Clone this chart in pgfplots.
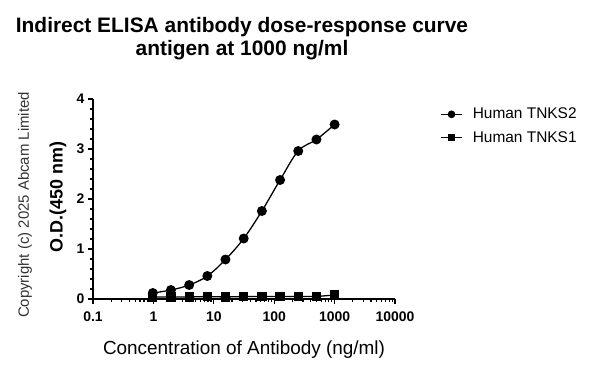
\documentclass[border=0pt]{standalone}
\usepackage{pgfplots}
\pgfplotsset{compat=1.18}
\usepackage{fontspec}
\setmainfont{Liberation Sans}
\begin{document}
\begin{tikzpicture}[x=1bp,y=1bp]
\path[use as bounding box] (0,0) rectangle (594,373);
\node[font=\bfseries\fontsize{21}{23}\selectfont,align=center] at (242,334.5) {Indirect ELISA antibody dose-response curve\\antigen at 1000 ng/ml};
\node[rotate=90,font=\fontsize{15}{17}\selectfont,text=black!80] at (25,168) {Copyright (c) 2025 Abcam Limited};
\node[rotate=90,font=\bfseries\fontsize{18}{20}\selectfont] at (58,176) {O.D.(450 nm)};
\node[font=\fontsize{19}{21}\selectfont] at (244,23) {Concentration of Antibody (ng/ml)};
\begin{axis}[
  at={(93bp,74bp)}, anchor=south west,
  scale only axis, width=302bp, height=200bp,
  xmode=log, xmin=0.1, xmax=10000,
  ymin=0, ymax=4,
  axis lines*=left,
  axis line style={line width=1.6pt},
  tick align=outside,
  major tick length=5bp, minor tick length=3bp,
  every tick/.style={black,line width=1.2pt},
  xtick={0.1,1,10,100,1000,10000},
  xticklabels={0.1,1,10,100,1000,10000},
  xticklabel style={yshift=-4bp},
  ytick={0,1,2,3,4},
  minor y tick num=4,
  ticklabel style={font=\bfseries\fontsize{14}{15}\selectfont},
  /pgf/number format/assume math mode=true,
  clip=false,
  legend style={at={(rel axis cs:1.149,0.96)},anchor=north west,draw=none,fill=none,
    inner xsep=0pt, inner ysep=0pt, nodes={inner sep=1bp},
    font=\fontsize{15.5}{17}\selectfont, row sep=9bp},
  legend cell align=left,
  legend image code/.code={\draw[mark repeat=2,mark phase=2,#1] plot coordinates {(0bp,0bp) (10.5bp,0bp) (21bp,0bp)};},
  legend image post style={mark size=3bp,line width=1.6pt},
]
\addplot[black,line width=1.3pt,smooth,tension=0.6,mark=*,mark size=4.3bp,mark options={solid}] coordinates {
(0.977,0.12) (1.95,0.18) (3.91,0.28) (7.81,0.46) (15.6,0.79) (31.25,1.21) (62.5,1.76) (125,2.38) (250,2.96) (500,3.19) (1000,3.49)};
\addlegendentry{\hspace{9bp}Human TNKS2}
\addplot[black,line width=1.3pt,mark=square*,mark size=4bp] coordinates {
(0.977,0.04) (1.95,0.04) (3.91,0.04) (7.81,0.05) (15.6,0.04) (31.25,0.05) (62.5,0.05) (125,0.05) (250,0.05) (500,0.05) (1000,0.08)};
\addlegendentry{\hspace{9bp}Human TNKS1}
\end{axis}
\end{tikzpicture}
\end{document}
